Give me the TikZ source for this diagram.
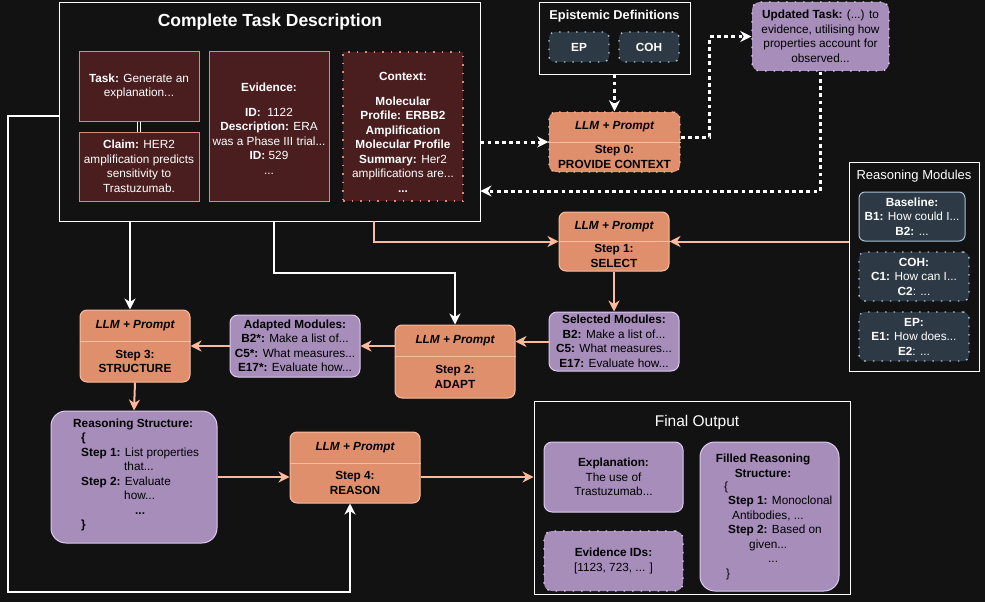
\documentclass[tikz,border=0pt]{standalone}
\usepackage{fontspec}
\setmainfont{Liberation Sans}
\usetikzlibrary{arrows.meta,fit,calc}
\definecolor{bgc}{HTML}{121212}
\definecolor{redfill}{HTML}{4A1E1E}
\definecolor{redline}{HTML}{D98A80}
\definecolor{slatefill}{HTML}{2D3A46}
\definecolor{slateline}{HTML}{A9C1D6}
\definecolor{purpfill}{HTML}{A68DBA}
\definecolor{purpline}{HTML}{DCCBEE}
\definecolor{stepfill}{HTML}{E08F6C}
\definecolor{stepline}{HTML}{F8BE9F}
\definecolor{oarrc}{HTML}{FDBB9B}
\newcommand\fsz{\fontsize{11.8}{14.5}\selectfont}
% box from corners: style, x1, y1, x2, y2, name, text
\newcommand\bx[7]{%
  \node[#1, minimum width={#4-#2}, minimum height={#5-#3}] (#6) at ({(#2+#4)/2},{(#3+#5)/2}) {#7};}
\newcommand\llm[8]{%
  \node[stepb,#2,fit={(#3,#4)(#5,#6)}] (#1) {};
  \draw[draw=stepline, line width=0.8pt] (#1.west |- 0,#7) -- (#1.east |- 0,#7);
  \node[font=\fsz\bfseries\itshape, text=black] (#1a) at ({(#3+#5)/2},{(#4+#7)/2}) {LLM + Prompt};
  \node[font=\fsz\bfseries, align=center, text=black] (#1b) at ({(#3+#5)/2},{(#7+#6)/2}) {#8};
}
\begin{document}
\begin{tikzpicture}[x=1pt,y=-1pt,
  box/.style={inner sep=0pt, align=center, text=white, font=\fsz},
  tbox/.style={box, fill=redfill, draw=redline, line width=1pt},
  ctxbox/.style={tbox, dash pattern=on 1.5pt off 7pt, line width=1.4pt},
  slate/.style={box, fill=slatefill, draw=slateline, rounded corners=6pt, line width=1pt},
  slatedot/.style={slate, dash pattern=on 1.5pt off 7pt, line width=1.4pt},
  purp/.style={box, fill=purpfill, draw=purpline, rounded corners=8pt, line width=1pt, text=black},
  purpdot/.style={purp, dash pattern=on 1.5pt off 7pt, line width=1.4pt},
  stepb/.style={fill=stepfill, draw=stepline, rounded corners=7pt, line width=1pt, inner sep=0pt},
  stepdot/.style={dash pattern=on 1.5pt off 6pt, line width=1.4pt},
  frame/.style={draw=white, line width=0.9pt, inner sep=0pt},
  dbl/.style={draw=white, double=bgc, double distance=2.2pt, line width=0.6pt},
  oarr/.style={draw=oarrc, line width=2pt, -{Stealth[length=11pt,width=11pt,inset=3.5pt]}},
  warr/.style={draw=white, line width=2pt, -{Stealth[length=11pt,width=11pt,inset=3.5pt]}},
  wdot/.style={warr, line width=3pt, dash pattern=on 3.8pt off 3.4pt}
]
\fill[bgc] (0,0) rectangle (985,602);
\useasboundingbox (0,0) rectangle (985,602);

% ---------- Complete task description ----------
\node[frame, fit={(59,2)(480,221)}] (cbox) {};
\node[font=\fontsize{17.5}{20}\selectfont\bfseries, text=white] (ctitle) at (270,22) {Complete Task Description};
\bx{tbox}{79}{52}{199}{121}{task}{\textbf{Task:} Generate an\\explanation...}
\bx{tbox}{79}{132}{199}{201}{claim}{\textbf{Claim:} HER2\\amplification predicts\\sensitivity to\\Trastuzumab.}
\bx{tbox}{209}{52}{329}{201}{evid}{\rule{0pt}{13pt}\textbf{Evidence:}\\[10pt]\textbf{ID:}\ \ 1122\\\textbf{Description:} ERA\\was a Phase III trial...\\\textbf{ID:} 529\\...}
\bx{ctxbox}{343}{52}{463}{201}{ctx}{\rule{0pt}{20pt}\textbf{Context:}\\[10pt]\textbf{Molecular}\\\textbf{Profile: ERBB2}\\\textbf{Amplification}\\\textbf{Molecular Profile}\\\textbf{Summary:} Her2\\amplifications are...\\\textbf{...}}
\draw[dbl] (task.east) -- (task.east -| evid.west);
\draw[dbl] (claim.east) -- (claim.east -| evid.west);
\draw[dbl] (task.south) -- (claim.north);
\draw[dbl] (evid.east) -- (ctx.west);

% ---------- Epistemic definitions ----------
\node[frame, fit={(539,2)(690,74)}] (epi) {};
\node[font=\fontsize{12.8}{15}\selectfont\bfseries, text=white] (epititle) at (614.5,16) {Epistemic Definitions};
\bx{slatedot, font=\fsz\bfseries}{549}{32}{609}{62}{ep}{EP}
\bx{slatedot, font=\fsz\bfseries}{619}{32}{679}{62}{coh}{COH}

% ---------- Updated task ----------
\bx{purpdot}{752}{2}{889}{71}{upd}{\textbf{Updated Task:} (...) to\\evidence, utilising how\\properties account for\\observed...}

% ---------- Reasoning modules ----------
\node[frame, fit={(849,162)(979,371)}] (rm) {};
\node[font=\fontsize{13}{15}\selectfont, text=white] (rmtitle) at (914,176) {Reasoning Modules};
\bx{slate}{859}{192}{965}{241}{base}{\textbf{Baseline:}\\\textbf{B1:} How could I...\\\textbf{B2:} ...}
\bx{slatedot}{859}{252}{969}{301}{cohm}{\textbf{COH:}\\\textbf{C1:} How can I...\\\textbf{C2}: ...}
\bx{slatedot}{859}{312}{969}{361}{epm}{\textbf{EP:}\\\textbf{E1:} How does...\\\textbf{E2}: ...}

% ---------- Steps ----------
\llm{s0}{stepdot}{549}{112}{680}{172}{142}{Step 0:\\PROVIDE CONTEXT}
\llm{s1}{}{559}{212}{669}{271}{241}{Step 1:\\SELECT}
\llm{s2}{}{395}{325}{515}{398}{356}{Step 2:\\ADAPT}
\llm{s3}{}{80}{310}{190}{382}{341}{Step 3:\\STRUCTURE}
\llm{s4}{}{290}{432}{420}{503}{463}{Step 4:\\REASON}

\bx{purp}{549}{312}{679}{371}{sel}{\textbf{Selected Modules:}\\\textbf{B2:} Make a list of...\\\textbf{C5:} What measures...\\\textbf{E17:} Evaluate how...}
\bx{purp}{230}{315}{360}{377}{ad}{\textbf{Adapted Modules:}\\\textbf{B2*:} Make a list of...\\\textbf{C5*:} What measures...\\\textbf{E17*:} Evaluate how...}

\bx{purp, rounded corners=15pt}{51}{411}{217}{543}{rs}{}
\node[box, text=black, anchor=north west] (rstext) at (73,417) {\begin{tabular}{@{}l@{}}
\textbf{Reasoning Structure:}\\
\hspace*{8pt}\textbf{\{}\\
\hspace*{8pt}\textbf{Step 1:} List properties\\
\hspace*{51pt}that...\\
\hspace*{8pt}\textbf{Step 2:} Evaluate\\
\hspace*{51pt}how...\\
\hspace*{62pt}\textbf{...}\\
\hspace*{8pt}\textbf{\}}
\end{tabular}};

% ---------- Final output ----------
\node[frame, fit={(534,401)(850,594)}] (fo) {};
\node[font=\fontsize{15.5}{18}\selectfont, text=white] (fotitle) at (697,422) {Final Output};
\bx{purp}{544}{442}{683}{512}{expl}{\textbf{Explanation:}\\The use of\\Trastuzumab...}
\bx{purpdot}{544}{531}{683}{591}{eids}{\textbf{Evidence IDs:}\\{[1123, 723, ... ]}}
\bx{purp, rounded corners=15pt}{700}{442}{839}{591}{frs}{}
\node[box, text=black, font=\fsz\bfseries] (frstitle) at (763,466) {Filled Reasoning\\Structure:};
\node[box, text=black, anchor=north west] (frsbody) at (724,480) {\begin{tabular}{@{}l@{}}
\{\\
\hspace*{4pt}\textbf{Step 1:} Monoclonal\\
\hspace*{8pt}Antibodies, ...\\
\hspace*{4pt}\textbf{Step 2:} Based on\\
\hspace*{25pt}given...\\
\hspace*{44pt}...\\
\hspace*{2pt}\}
\end{tabular}};

% ---------- Connectors ----------
\coordinate (loopstart) at (59,116);
\draw[wdot] (cbox.east |- s0.west) -- (s0.west);
\draw[wdot] (epi.south) -- (s0.north);
\draw[wdot] ([yshift=5pt]s0.east) -- ++(29,0) |- (upd.west);
\draw[wdot] (upd.south) |- (cbox.east |- 0,191);
\draw[oarr] (s1.east -| rm.west) -- (s1.east);
\draw[oarr] (cbox.south -| 374,0) |- (s1.west);
\draw[oarr] (s1.south) -- (sel.north);
\draw[oarr] (sel.west) -- (sel.west -| s2.east);
\draw[oarr] (s2.west |- ad.east) -- (ad.east);
\draw[oarr] (ad.west) -- (ad.west -| s3.east);
\draw[warr] (cbox.south -| 130,0) -- (s3.north -| 130,0);
\draw[warr] (cbox.south -| 274,0) -- (274,273) -| (s2.north);
\draw[oarr] (s3.south) -- (rs.north);
\draw[oarr] (rs.east) -- (rs.east -| s4.west);
\draw[oarr] (s4.east |- rs.east) -- (fo.west |- rs.east);
\draw[warr, line join=miter] (loopstart) -- (8,116) -- (8,592) -| (s4.south -| 350,0);
\end{tikzpicture}
\end{document}
